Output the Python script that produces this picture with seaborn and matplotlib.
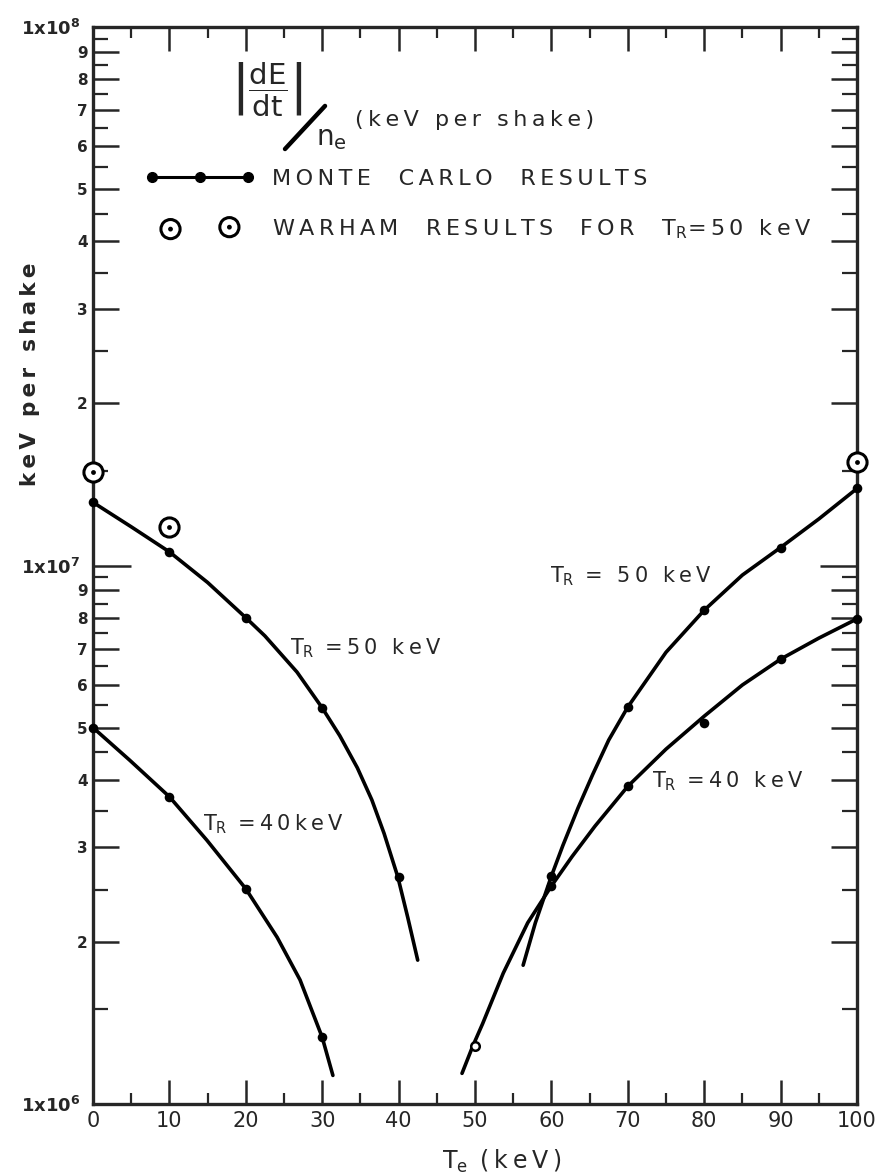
import numpy as np
import pandas as pd
import matplotlib
matplotlib.use("Agg")
import matplotlib.pyplot as plt
import matplotlib.ticker as mticker
from matplotlib.lines import Line2D
from matplotlib.legend_handler import HandlerTuple, HandlerPathCollection
import seaborn as sns

# ================= DATA =================
# Monte Carlo points, |dE/dt|/n_e in keV per shake
MC50_LEFT_TE = [0, 10, 20, 30, 40]
MC50_LEFT_Y = [1.31e7, 1.06e7, 8.0e6, 5.43e6, 2.64e6]
MC40_LEFT_TE = [0, 10, 20, 30]
MC40_LEFT_Y = [5.0e6, 3.72e6, 2.51e6, 1.33e6]
MC50_RIGHT_TE = [60, 70, 80, 90, 100]
MC50_RIGHT_Y = [2.65e6, 5.46e6, 8.26e6, 1.08e7, 1.39e7]
MC40_RIGHT_TE = [60, 70, 80, 90, 100]
MC40_RIGHT_Y = [2.54e6, 3.89e6, 5.10e6, 6.70e6, 7.96e6]
OPEN_TE = [50]
OPEN_Y = [1.28e6]

# Warham results for T_R = 50 keV
WARHAM_TE = [0, 10, 100]
WARHAM_Y = [1.49e7, 1.18e7, 1.56e7]

# hand drawn curves traced through the points
FIT50_LEFT_TE = [0, 5, 10, 15, 20, 22.5, 26.7, 30, 32.3, 34.6, 36.5, 38.1, 39.9, 41.2, 42.5]
FIT50_LEFT_Y = [1.31e7, 1.18e7, 1.06e7, 9.3e6, 8.0e6, 7.40e6, 6.34e6, 5.44e6, 4.83e6,
                4.21e6, 3.67e6, 3.18e6, 2.64e6, 2.22e6, 1.85e6]
FIT40_LEFT_TE = [0, 4.8, 10, 14.9, 20, 24.1, 27.1, 30, 31.4]
FIT40_LEFT_Y = [5.0e6, 4.35e6, 3.72e6, 3.09e6, 2.51e6, 2.04e6, 1.70e6, 1.33e6, 1.13e6]
FIT50_RIGHT_TE = [56.3, 57.9, 60, 61.5, 63.5, 65.4, 67.5, 70, 75, 80, 85, 90, 95, 100]
FIT50_RIGHT_Y = [1.81e6, 2.17e6, 2.65e6, 3.02e6, 3.55e6, 4.09e6, 4.74e6, 5.46e6, 6.9e6,
                 8.26e6, 9.6e6, 1.08e7, 1.22e7, 1.39e7]
FIT40_RIGHT_TE = [48.3, 49.7, 51.0, 53.7, 56.9, 60, 62.7, 65.7, 70, 75, 80, 85, 90, 95, 100]
FIT40_RIGHT_Y = [1.14e6, 1.28e6, 1.41e6, 1.75e6, 2.17e6, 2.54e6, 2.88e6, 3.28e6, 3.89e6,
                 4.56e6, 5.25e6, 6.0e6, 6.70e6, 7.33e6, 7.96e6]

X_TICKS = list(range(0, 101, 10))
X_MINOR = list(range(5, 100, 10))
DECADES = [1e6, 1e7, 1e8]
MANTISSA = [2, 3, 4, 5, 6, 7, 8, 9]
# ===============================================================

sns.set_style("ticks")
plt.rcParams["font.family"] = ["DejaVu Sans"]
plt.rcParams["mathtext.fontset"] = "dejavusans"


def track(s):
    # wide lettering like the original stencil text
    return "\u2009".join(s)


fig = plt.figure(figsize=(8.87, 11.73), dpi=100)
ax = fig.add_axes([93 / 887, 1 - 1104 / 1173, 764 / 887, 1077 / 1173])
ax.set_yscale("log")

curves = pd.concat([
    pd.DataFrame({"Te": FIT50_LEFT_TE, "val": FIT50_LEFT_Y, "curve": "50L"}),
    pd.DataFrame({"Te": FIT40_LEFT_TE, "val": FIT40_LEFT_Y, "curve": "40L"}),
    pd.DataFrame({"Te": FIT50_RIGHT_TE, "val": FIT50_RIGHT_Y, "curve": "50R"}),
    pd.DataFrame({"Te": FIT40_RIGHT_TE, "val": FIT40_RIGHT_Y, "curve": "40R"}),
])
sns.lineplot(data=curves, x="Te", y="val", units="curve", estimator=None, sort=False,
             color="black", lw=2.6, ax=ax, legend=False)

mc = pd.DataFrame({"Te": MC50_LEFT_TE + MC40_LEFT_TE + MC50_RIGHT_TE + MC40_RIGHT_TE,
                   "val": MC50_LEFT_Y + MC40_LEFT_Y + MC50_RIGHT_Y + MC40_RIGHT_Y})
sns.scatterplot(data=mc, x="Te", y="val", color="black", s=48, linewidth=0,
                clip_on=False, zorder=5, ax=ax, legend=False)
sns.scatterplot(x=OPEN_TE, y=OPEN_Y, s=38, facecolor="white", edgecolor="black",
                linewidth=1.8, clip_on=False, zorder=5, ax=ax, legend=False)

sns.scatterplot(x=WARHAM_TE, y=WARHAM_Y, s=190, facecolor="white", edgecolor="black",
                linewidth=2.2, clip_on=False, zorder=6, ax=ax, legend=False)
ring = ax.collections[-1]
sns.scatterplot(x=WARHAM_TE, y=WARHAM_Y, s=12, color="black", linewidth=0,
                clip_on=False, zorder=7, ax=ax, legend=False)
dot = ax.collections[-1]

# axes, ticks
ax.set_xlim(0, 100)
ax.set_ylim(1e6, 1e8)
ax.set_xlabel("")
ax.set_ylabel("")
for s in ax.spines.values():
    s.set_visible(True)
    s.set_linewidth(2.4)

ax.set_xticks(X_TICKS)
ax.set_xticks(X_MINOR, minor=True)
ax.set_xticklabels([str(t) for t in X_TICKS], fontsize=15)

y_major = []
y_labels = []
for d in DECADES:
    y_major.append(d)
    y_labels.append(r"$\mathbf{1x10^{%d}}$" % int(np.log10(d)))
    if d < 1e8:
        for m in MANTISSA:
            y_major.append(m * d)
            y_labels.append(str(m))
y_minor = [(m + 0.5) * d for d in DECADES[:2] for m in range(1, 10)]
ax.yaxis.set_major_locator(mticker.FixedLocator(y_major))
ax.yaxis.set_major_formatter(mticker.FixedFormatter(y_labels))
ax.yaxis.set_minor_locator(mticker.FixedLocator(y_minor))
ax.yaxis.set_minor_formatter(mticker.NullFormatter())

ax.tick_params(axis="x", which="major", direction="in", length=17, width=1.8,
               top=True, bottom=True, pad=5)
ax.tick_params(axis="x", which="minor", direction="in", length=8, width=1.6,
               top=True, bottom=True)
ax.tick_params(axis="y", which="major", direction="in", length=19, width=1.8,
               left=True, right=True, pad=4, labelsize=11)
ax.tick_params(axis="y", which="minor", direction="in", length=11, width=1.6,
               left=True, right=True)
for lab in ax.get_yticklabels():
    lab.set_fontweight("bold")
for tick, val in zip(ax.yaxis.get_major_ticks(), y_major):
    if val in DECADES:
        tick.label1.set_fontsize(13)
        tick.set_pad(9)
        if val == 1e7:
            tick.tick1line.set_markersize(27)
            tick.tick2line.set_markersize(27)

# legend block
mc_handle = Line2D([], [], color="black", lw=2.2, marker="o", ms=7)
pad_handler = HandlerPathCollection(marker_pad=1.15)
leg = ax.legend([mc_handle, (ring, dot)],
                [track("MONTE  CARLO  RESULTS"),
                 track("WARHAM  RESULTS  FOR  T") + r"$_\mathrm{R}$" + track("=50 keV")],
                handler_map={tuple: HandlerTuple(ndivide=1), ring: pad_handler, dot: pad_handler},
                loc="upper left", bbox_to_anchor=(0.068, 0.868), frameon=False,
                fontsize=16, numpoints=3, scatterpoints=2, handlelength=4.95,
                handletextpad=0.77, labelspacing=1.25, borderpad=0, borderaxespad=0)

# formula heading
ax.text(0.228, 0.9415, r"$\left|\dfrac{\mathrm{dE}}{\mathrm{dt}}\right|$", transform=ax.transAxes,
        fontsize=21, ha="center", va="center")
ax.plot([0.2513, 0.3037], [0.8867, 0.9267], transform=ax.transAxes, color="black",
        lw=3.2, solid_capstyle="round")
ax.text(0.292, 0.897, r"$\mathrm{n_e}$", transform=ax.transAxes, fontsize=20,
        ha="left", va="center")
ax.text(0.343, 0.9136, track("(keV per shake)"), transform=ax.transAxes, fontsize=16,
        ha="left", va="center")

# curve labels
tr = r"T$_\mathrm{R}$"
ax.text(0.258, 0.417, tr + track(" =50 keV"), transform=ax.transAxes, fontsize=15, va="baseline")
ax.text(0.144, 0.254, tr + track(" =40keV"), transform=ax.transAxes, fontsize=15, va="baseline")
ax.text(0.598, 0.484, tr + track(" = 50 keV"), transform=ax.transAxes, fontsize=15, va="baseline")
ax.text(0.732, 0.294, tr + track(" =40 keV"), transform=ax.transAxes, fontsize=15, va="baseline")

fig.text(30 / 887, 1 - 374 / 1173, track("keV per shake"), rotation=90, fontsize=15.5,
         fontweight="bold", ha="center", va="center")
fig.text(502 / 887, 1 - 1169 / 1173, r"T$_\mathrm{e}$" + track(" (keV)"), fontsize=17,
         ha="center", va="baseline")

fig.savefig("out.png", dpi=100)
